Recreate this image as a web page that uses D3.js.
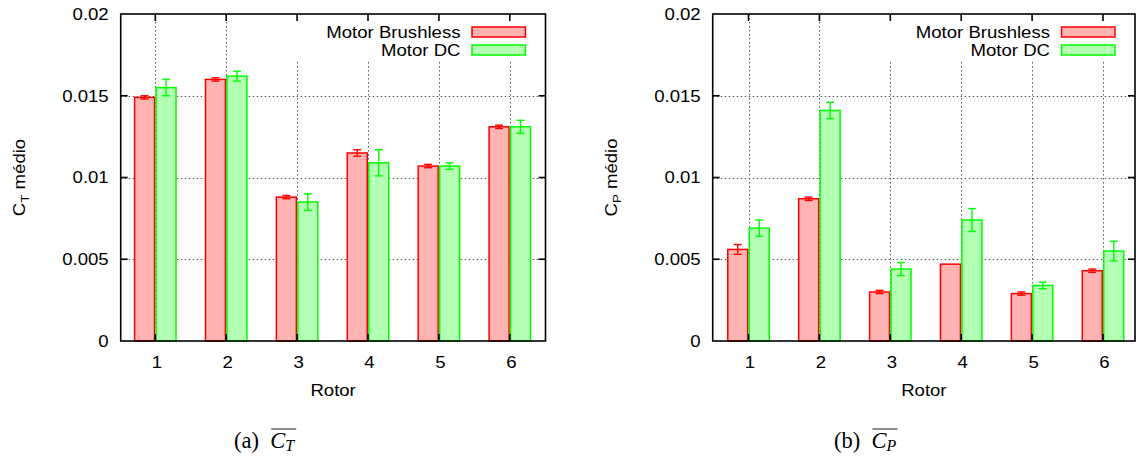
<!DOCTYPE html>
<html>
<head>
<meta charset="utf-8">
<script src="https://cdn.jsdelivr.net/npm/d3@7"></script>
<style>
  html, body { margin: 0; padding: 0; background: #fff; }
  svg { display: block; }
</style>
</head>
<body>
<svg id="fig" width="1140" height="459"></svg>
<script>
// Rotor indices on the x axis
const rotors = [1, 2, 3, 4, 5, 6];
const seriesNames = ["Motor Brushless", "Motor DC"];

// Mean thrust coefficient and its uncertainty
const ctBrushless    = [0.0149, 0.0160, 0.0088, 0.0115, 0.0107, 0.0131];
const ctBrushlessErr = [0.0001, 0.0001, 0.0001, 0.0002, 0.0001, 0.0001];
const ctDC           = [0.0155, 0.0162, 0.0085, 0.0109, 0.0107, 0.0131];
const ctDCErr        = [0.0005, 0.0003, 0.0005, 0.0008, 0.0002, 0.0004];

// Mean power coefficient and its uncertainty
const cpBrushless    = [0.0056, 0.0087, 0.0030, 0.0047, 0.0029, 0.0043];
const cpBrushlessErr = [0.0003, 0.0001, 0.0001, 0.0000, 0.0001, 0.0001];
const cpDC           = [0.0069, 0.0141, 0.0044, 0.0074, 0.0034, 0.0055];
const cpDCErr        = [0.0005, 0.0005, 0.0004, 0.0007, 0.0002, 0.0006];

const yTicks      = [0, 0.005, 0.01, 0.015, 0.02];
const yTickLabels = ["0", "0.005", "0.01", "0.015", "0.02"];

const strokeColors = ["#ff0000", "#00ff00"];
const fillColors   = ["#ffb3b3", "#b3ffb3"];

const SANS = "'Liberation Sans', Arial, Helvetica, sans-serif";
const SERIF = "'Liberation Serif', 'DejaVu Serif', serif";
const FS = 16.3;      // plot text size
const SX = 1.14;      // horizontal stretch of plot text

const svg = d3.select("#fig");

function stretchedText(g, x, y, str, anchor) {
  return g.append("text")
    .attr("transform", `translate(${x},${y}) scale(${SX},1)`)
    .attr("text-anchor", anchor || "start")
    .attr("font-family", SANS)
    .attr("font-size", FS)
    .attr("fill", "#000")
    .text(str);
}

function drawPanel(cfg) {
  const g = svg.append("g");
  const x = d3.scaleLinear().domain([rotors[0], rotors[rotors.length - 1]])
    .range([cfg.c1, cfg.c1 + (rotors.length - 1) * cfg.step]);
  const y = d3.scaleLinear().domain([yTicks[0], yTicks[yTicks.length - 1]])
    .range([cfg.bottom, cfg.top]);
  const bw = 0.303 * cfg.step;

  // dotted grid
  const grid = g.append("g")
    .attr("stroke", "#555").attr("stroke-width", 1)
    .attr("stroke-dasharray", "1.5,2.5").attr("fill", "none");
  yTicks.slice(1, -1).forEach(t => {
    grid.append("line").attr("x1", cfg.left).attr("x2", cfg.right)
      .attr("y1", Math.round(y(t)) + 0.5).attr("y2", Math.round(y(t)) + 0.5);
  });
  rotors.forEach(r => {
    grid.append("line").attr("x1", Math.round(x(r)) + 0.5).attr("x2", Math.round(x(r)) + 0.5)
      .attr("y1", cfg.top).attr("y2", cfg.bottom);
  });

  // legend background hides the grid behind the key
  g.append("rect").attr("x", cfg.right - 258).attr("y", cfg.top + 1)
    .attr("width", 257).attr("height", 45).attr("fill", "#fff");

  // bars
  const series = [
    { vals: cfg.a, errs: cfg.aErr, off: -bw },
    { vals: cfg.b, errs: cfg.bErr, off: 0 }
  ];
  series.forEach((s, si) => {
    const sg = g.append("g");
    sg.selectAll("rect").data(rotors).join("rect")
      .attr("x", r => x(r) + s.off + 0.75)
      .attr("y", (r, i) => y(s.vals[i]))
      .attr("width", bw - 1.5)
      .attr("height", (r, i) => y(0) - y(s.vals[i]))
      .attr("fill", fillColors[si])
      .attr("stroke", strokeColors[si])
      .attr("stroke-width", 1.5);
  });

  // error bars
  series.forEach((s, si) => {
    const eg = g.append("g").attr("stroke", strokeColors[si]).attr("stroke-width", 1.4);
    rotors.forEach((r, i) => {
      if (!s.errs[i]) return;
      const cx = x(r) + s.off + bw / 2;
      const y1 = y(s.vals[i] + s.errs[i]);
      const y2 = y(s.vals[i] - s.errs[i]);
      eg.append("line").attr("x1", cx).attr("x2", cx).attr("y1", y1).attr("y2", y2);
      eg.append("line").attr("x1", cx - 4).attr("x2", cx + 4).attr("y1", y1).attr("y2", y1);
      eg.append("line").attr("x1", cx - 4).attr("x2", cx + 4).attr("y1", y2).attr("y2", y2);
    });
  });

  // frame and mirrored ticks
  const fr = g.append("g").attr("stroke", "#000").attr("stroke-width", 1.6).attr("fill", "none");
  fr.append("rect").attr("x", cfg.left).attr("y", cfg.top)
    .attr("width", cfg.right - cfg.left).attr("height", cfg.bottom - cfg.top);
  const tl = 7;
  yTicks.slice(1, -1).forEach(t => {
    fr.append("line").attr("x1", cfg.left).attr("x2", cfg.left + tl).attr("y1", y(t)).attr("y2", y(t));
    fr.append("line").attr("x1", cfg.right).attr("x2", cfg.right - tl).attr("y1", y(t)).attr("y2", y(t));
  });
  rotors.forEach(r => {
    fr.append("line").attr("x1", x(r)).attr("x2", x(r)).attr("y1", cfg.bottom).attr("y2", cfg.bottom - tl);
    fr.append("line").attr("x1", x(r)).attr("x2", x(r)).attr("y1", cfg.top).attr("y2", cfg.top + tl);
  });

  // tick labels
  yTicks.forEach((t, i) => {
    stretchedText(g, cfg.left - 12, y(t) + 5.8, yTickLabels[i], "end");
  });
  rotors.forEach(r => {
    stretchedText(g, x(r) + 1.5, cfg.bottom + 27, String(r), "middle");
  });

  // axis titles
  stretchedText(g, (cfg.left + cfg.right) / 2, cfg.bottom + 55, "Rotor", "middle");
  const yl = g.append("text")
    .attr("transform", `translate(${cfg.ylx},${(cfg.top + cfg.bottom) / 2}) rotate(-90) scale(${SX},1)`)
    .attr("text-anchor", "middle")
    .attr("font-family", SANS).attr("font-size", FS);
  yl.append("tspan").text("C");
  yl.append("tspan").attr("font-size", FS * 0.72).attr("dy", 4).text(cfg.sub);
  yl.append("tspan").attr("dy", -4).text(" médio");

  // legend
  seriesNames.forEach((name, i) => {
    const ly = cfg.top + 18 + i * 18;
    stretchedText(g, cfg.right - 85, ly + 5.8, name, "end");
    g.append("rect").attr("x", cfg.right - 73.5).attr("y", ly - 5)
      .attr("width", 53.5).attr("height", 10)
      .attr("fill", fillColors[i]).attr("stroke", strokeColors[i]).attr("stroke-width", 1.5);
  });

  // caption
  const cap = svg.append("text")
    .attr("x", cfg.capx).attr("y", 448)
    .attr("font-family", SERIF).attr("font-size", 22.5).attr("fill", "#000");
  cap.append("tspan").text(cfg.capLetter + "\u2002");
  cap.append("tspan").attr("font-style", "italic").text("C");
  cap.append("tspan").attr("font-style", "italic").attr("font-size", 16).attr("dy", 3).text(cfg.sub);
  const capNode = cap.node();
  const bb = capNode.getBBox();
  const letterW = capNode.getSubStringLength(0, cfg.capLetter.length + 1);
  svg.append("line")
    .attr("x1", bb.x + letterW + 1).attr("x2", bb.x + bb.width + 1)
    .attr("y1", 429).attr("y2", 429)
    .attr("stroke", "#000").attr("stroke-width", 0.9);
}

drawPanel({
  left: 120.7, right: 545.5, top: 14, bottom: 341,
  c1: 155.3, step: 70.9, ylx: 25,
  a: ctBrushless, aErr: ctBrushlessErr, b: ctDC, bErr: ctDCErr,
  sub: "T", capLetter: "(a)", capx: 234
});
drawPanel({
  left: 712.7, right: 1135, top: 14, bottom: 341,
  c1: 748.5, step: 70.9, ylx: 617,
  a: cpBrushless, aErr: cpBrushlessErr, b: cpDC, bErr: cpDCErr,
  sub: "P", capLetter: "(b)", capx: 834
});
</script>
</body>
</html>
